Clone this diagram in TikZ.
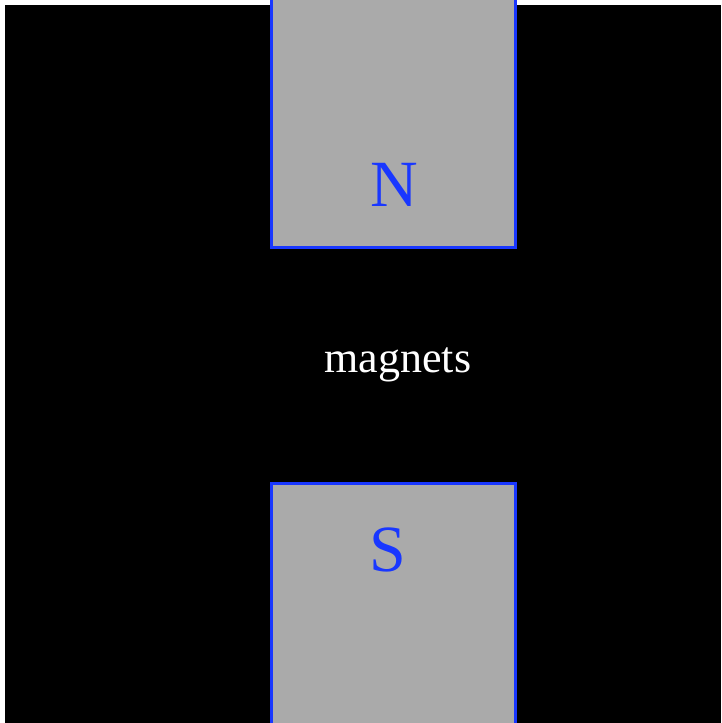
\documentclass[tikz,border=0pt]{standalone}
\usepackage{fontspec}
\setmainfont{Liberation Serif}
\definecolor{magblue}{RGB}{25,55,255}
\definecolor{maggray}{RGB}{170,170,170}
\begin{document}
\begin{tikzpicture}[x=1pt,y=-1pt,
  magnet/.style={fill=maggray,draw=magblue,line width=3pt},
  pole/.style={text=magblue,font=\fontsize{66}{66}\selectfont,anchor=base,inner sep=0pt},
  lbl/.style={text=white,font=\fontsize{44}{44}\selectfont,anchor=base,inner sep=0pt}]
\useasboundingbox (0,0) rectangle (721,723);
\fill[white] (0,0) rectangle (721,723);
\fill[black] (5,5) rectangle (721,723);
\draw[magnet] (271,-10) rectangle (515,247);
\draw[magnet] (271,483) rectangle (515,740);
\node[pole] (N) at (394,206) {N};
\node[pole] (S) at (388,571) {S};
\node[lbl] (lab) at (398,372) {magnets};
\end{tikzpicture}
\end{document}
